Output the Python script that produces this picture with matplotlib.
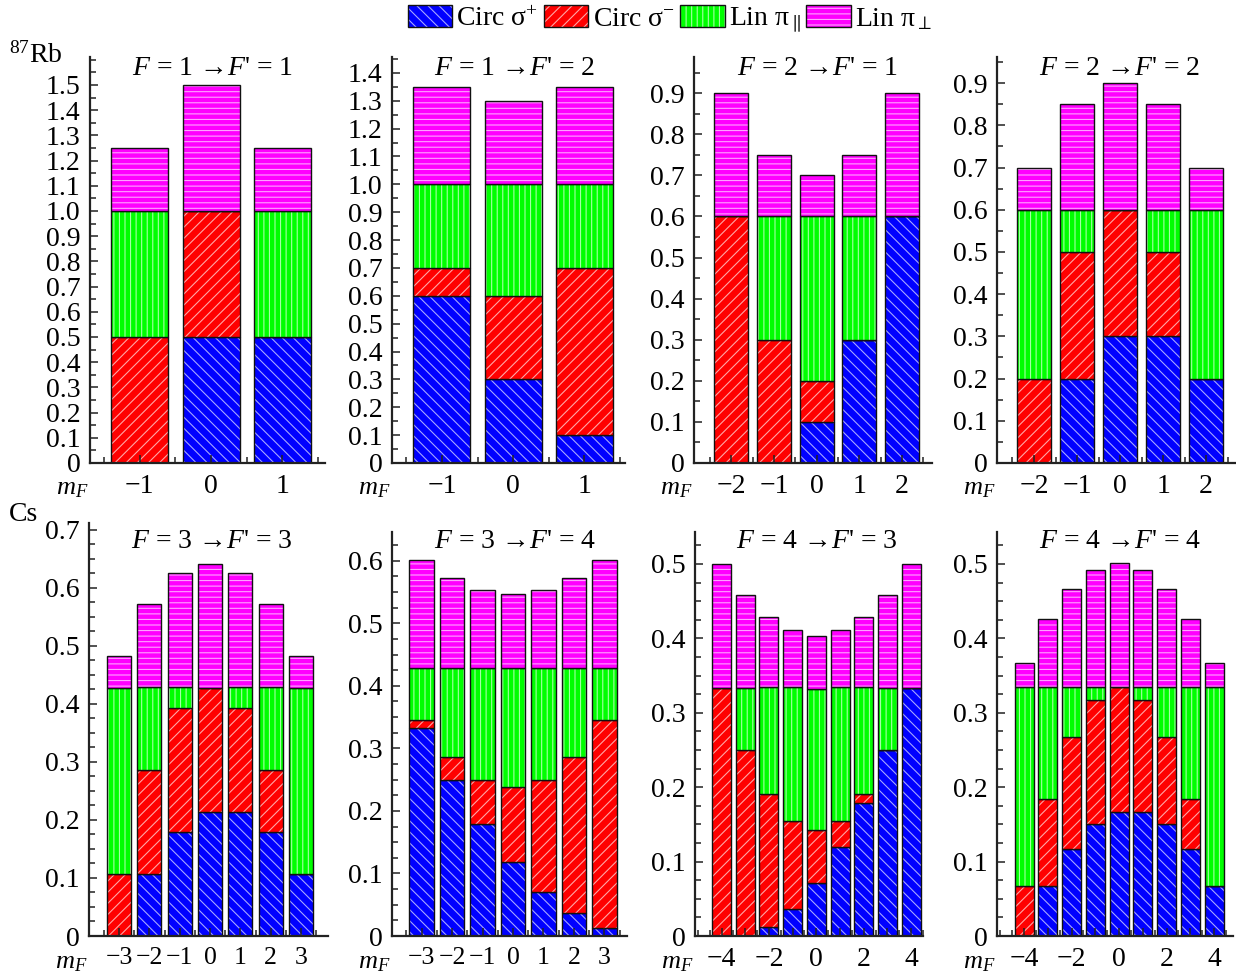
import numpy as np
import matplotlib
matplotlib.use("Agg")
import matplotlib.pyplot as plt
from matplotlib.patches import Patch
from matplotlib.legend_handler import HandlerTuple
from matplotlib.ticker import MultipleLocator, FuncFormatter

plt.rcParams['font.family'] = ['Liberation Serif', 'DejaVu Serif']
plt.rcParams['mathtext.fontset'] = 'custom'
plt.rcParams['mathtext.rm'] = 'Liberation Serif'
plt.rcParams['mathtext.it'] = 'Liberation Serif:italic'
plt.rcParams['mathtext.bf'] = 'Liberation Serif:bold'
plt.rcParams['hatch.linewidth'] = 0.8

# 87Rb D-line transitions
rb11_m = [-1, 0, 1]
rb11_sp = [0.0, 0.5, 0.5]
rb11_sm = [0.5, 0.5, 0.0]
rb11_par = [0.5, 0.0, 0.5]
rb11_perp = [0.25, 0.5, 0.25]

rb12_m = [-1, 0, 1]
rb12_sp = [0.6, 0.3, 0.1]
rb12_sm = [0.1, 0.3, 0.6]
rb12_par = [0.3, 0.4, 0.3]
rb12_perp = [0.35, 0.3, 0.35]

rb21_m = [-2, -1, 0, 1, 2]
rb21_sp = [0.0, 0.0, 0.1, 0.3, 0.6]
rb21_sm = [0.6, 0.3, 0.1, 0.0, 0.0]
rb21_par = [0.0, 0.3, 0.4, 0.3, 0.0]
rb21_perp = [0.3, 0.15, 0.1, 0.15, 0.3]

rb22_m = [-2, -1, 0, 1, 2]
rb22_sp = [0.0, 0.2, 0.3, 0.3, 0.2]
rb22_sm = [0.2, 0.3, 0.3, 0.2, 0.0]
rb22_par = [0.4, 0.1, 0.0, 0.1, 0.4]
rb22_perp = [0.1, 0.25, 0.3, 0.25, 0.1]

# Cs D-line transitions
cs33_m = [-3, -2, -1, 0, 1, 2, 3]
cs33_sp = [0.0, 0.107, 0.179, 0.214, 0.214, 0.179, 0.107]
cs33_sm = [0.107, 0.179, 0.214, 0.214, 0.179, 0.107, 0.0]
cs33_par = [0.321, 0.143, 0.036, 0.0, 0.036, 0.143, 0.321]
cs33_perp = [0.054, 0.143, 0.196, 0.214, 0.196, 0.143, 0.054]

cs34_m = [-3, -2, -1, 0, 1, 2, 3]
cs34_sp = [0.333, 0.25, 0.179, 0.119, 0.071, 0.036, 0.012]
cs34_sm = [0.012, 0.036, 0.071, 0.119, 0.179, 0.25, 0.333]
cs34_par = [0.083, 0.143, 0.179, 0.190, 0.179, 0.143, 0.083]
cs34_perp = [0.173, 0.143, 0.125, 0.119, 0.125, 0.143, 0.173]

cs43_m = [-4, -3, -2, -1, 0, 1, 2, 3, 4]
cs43_sp = [0.0, 0.0, 0.012, 0.036, 0.071, 0.119, 0.179, 0.25, 0.333]
cs43_sm = [0.333, 0.25, 0.179, 0.119, 0.071, 0.036, 0.012, 0.0, 0.0]
cs43_par = [0.0, 0.083, 0.143, 0.179, 0.190, 0.179, 0.143, 0.083, 0.0]
cs43_perp = [0.167, 0.125, 0.095, 0.077, 0.071, 0.077, 0.095, 0.125, 0.167]

cs44_m = [-4, -3, -2, -1, 0, 1, 2, 3, 4]
cs44_sp = [0.0, 0.067, 0.117, 0.15, 0.167, 0.167, 0.15, 0.117, 0.067]
cs44_sm = [0.067, 0.117, 0.15, 0.167, 0.167, 0.15, 0.117, 0.067, 0.0]
cs44_par = [0.267, 0.15, 0.067, 0.017, 0.0, 0.017, 0.067, 0.15, 0.267]
cs44_perp = [0.033, 0.092, 0.133, 0.158, 0.167, 0.158, 0.133, 0.092, 0.033]

titles = ["$F$ = 1 →$F$' = 1", "$F$ = 1 →$F$' = 2", "$F$ = 2 →$F$' = 1", "$F$ = 2 →$F$' = 2",
          "$F$ = 3 →$F$' = 3", "$F$ = 3 →$F$' = 4", "$F$ = 4 →$F$' = 3", "$F$ = 4 →$F$' = 4"]
legend_labels = [r'Circ $\mathrm{\sigma}^{+}$', r'Circ $\mathrm{\sigma}^{-}$',
                 r'Lin $\mathrm{\pi}_{\parallel}$', r'Lin $\mathrm{\pi}_{\perp}$']

panels = [
    (rb11_m, rb11_sp, rb11_sm, rb11_par, rb11_perp),
    (rb12_m, rb12_sp, rb12_sm, rb12_par, rb12_perp),
    (rb21_m, rb21_sp, rb21_sm, rb21_par, rb21_perp),
    (rb22_m, rb22_sp, rb22_sm, rb22_par, rb22_perp),
    (cs33_m, cs33_sp, cs33_sm, cs33_par, cs33_perp),
    (cs34_m, cs34_sp, cs34_sm, cs34_par, cs34_perp),
    (cs43_m, cs43_sp, cs43_sm, cs43_par, cs43_perp),
    (cs44_m, cs44_sp, cs44_sm, cs44_par, cs44_perp),
]

W, H = 1236, 976
# axes boxes in pixels: left, right, top, bottom, xlim, ylim, major y step, minor y step, y max label
boxes = [
    (90, 325, 57, 463, (-1.70, 1.60), 1.611, 0.1, 0.05, 1.5),
    (392, 625, 57, 463, (-1.70, 1.57), 1.457, 0.1, 0.05, 1.4),
    (694, 932, 57, 463, (-2.87, 2.70), 0.988, 0.1, 0.05, 0.9),
    (997, 1235, 57, 463, (-2.86, 2.67), 0.962, 0.1, 0.05, 0.9),
    (89, 328, 523, 936, (-3.99, 3.89), 0.712, 0.1, 0.025, 0.7),
    (392, 627, 532, 936, (-3.97, 3.74), 0.646, 0.1, 0.025, 0.6),
    (695, 923, 532, 936, (-5.12, 4.50), 0.543, 0.1, 0.025, 0.5),
    (997, 1233, 532, 936, (-5.14, 4.80), 0.543, 0.1, 0.025, 0.5),
]
title_x = [212, 515, 817, 1120]

colors = ['#0000ff', '#ff0000', '#00ff00', '#ff00ff']
hatches = ['\\\\\\', '///', '|||', '---']
hatch_col = (1, 1, 1, 0.65)
FS = 20

fig = plt.figure(figsize=(W / 100, H / 100), dpi=100)

for i, (data, box) in enumerate(zip(panels, boxes)):
    l, r, t, b, xlim, ytop, major, minor, ymaxlab = box
    ax = fig.add_axes([l / W, 1 - b / H, (r - l) / W, (b - t) / H])
    m = np.array(data[0])
    bottom = np.zeros(len(m))
    for vals, fc, h in zip(data[1:], colors, hatches):
        vals = np.array(vals)
        ax.bar(m, vals, 0.8, bottom=bottom, color=fc, edgecolor=hatch_col,
               linewidth=0, hatch=h)
        ax.bar(m, vals, 0.8, bottom=bottom, fill=False, edgecolor='#111111',
               linewidth=1.0)
        bottom += vals

    ax.set_xlim(*xlim)
    ax.set_ylim(0, ytop)
    for s in ['top', 'right']:
        ax.spines[s].set_visible(False)
    for s in ['left', 'bottom']:
        ax.spines[s].set_linewidth(1.6)
        ax.spines[s].set_color('#222222')

    ax.set_yticks(np.round(np.arange(0, ymaxlab + 1e-6, major), 3))
    ax.yaxis.set_minor_locator(MultipleLocator(minor))
    ax.yaxis.set_major_formatter(FuncFormatter(lambda v, p: '0' if abs(v) < 1e-9 else f'{v:.1f}'))
    ax.set_xticks(m)
    ax.xaxis.set_minor_locator(MultipleLocator(0.5))
    if len(m) > 7:
        labs = [('−' if v < 0 else '') + str(abs(v)) if v % 2 == 0 else '' for v in m]
    else:
        labs = [('−' if v < 0 else '') + str(abs(v)) for v in m]
    ax.set_xticklabels(labs)
    ax.tick_params(which='both', direction='in', width=1.1, color='#222222',
                   labelsize=FS, top=False, right=False)
    ax.tick_params(which='major', length=6)
    ax.tick_params(which='minor', length=4)
    ax.tick_params(axis='y', pad=7)
    ax.tick_params(axis='x', pad=8)
    if len(m) == 7:
        # crowded labels: slightly smaller so the minus signs do not collide
        ax.tick_params(axis='x', labelsize=FS - 1.5)

    row = i // 4
    tx = title_x[i % 4]
    ty = 75 if row == 0 else 548
    fig.text(tx / W, 1 - ty / H, titles[i], ha='center', va='baseline', fontsize=FS)
    my = 494 if row == 0 else 968
    fig.text((l - 34) / W, 1 - my / H, '$m_F$', ha='left', va='baseline', fontsize=FS - 1)

fig.text(9 / W, 1 - 63 / H, r'$^{87}$Rb', ha='left', va='baseline', fontsize=FS)
fig.text(9 / W, 1 - 521 / H, 'Cs', ha='left', va='baseline', fontsize=FS)

handles = []
for fc, h in zip(colors, hatches):
    fill = Patch(facecolor=fc, edgecolor=hatch_col, linewidth=0, hatch=h)
    edge = Patch(fill=False, edgecolor='#111111', linewidth=1.0)
    handles.append((fill, edge))
fig.legend(handles, legend_labels, handler_map={tuple: HandlerTuple(ndivide=1)},
           ncol=4, loc='upper center', bbox_to_anchor=(0.542, 1.012), frameon=False,
           fontsize=FS, handlelength=1.6, handleheight=0.85, handletextpad=0.15,
           columnspacing=0.2, borderaxespad=0.2)

fig.savefig('out.png', dpi=100)
